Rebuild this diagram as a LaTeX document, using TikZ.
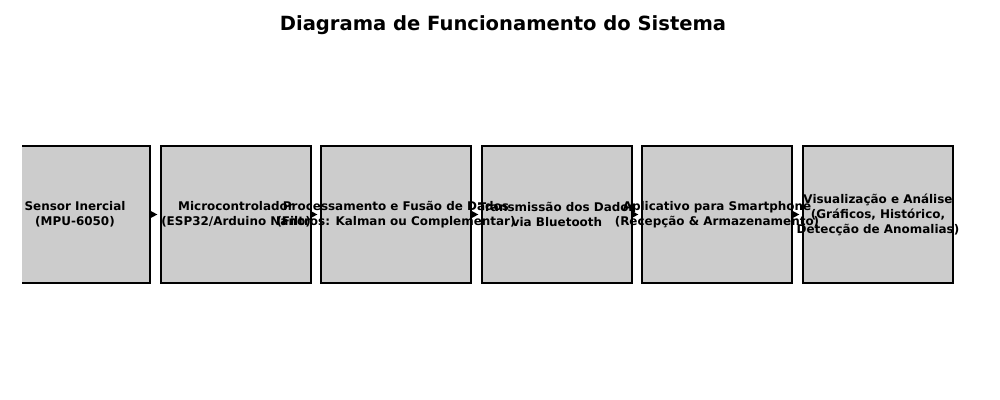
\documentclass[tikz,border=0pt]{standalone}
\usepackage{fontspec}
\setmainfont{DejaVu Sans}
\usetikzlibrary{arrows.meta, positioning, calc}
\definecolor{boxgrey}{rgb}{0.8, 0.8, 0.8}

\begin{document}
\begin{tikzpicture}[x=0.025cm, y=-0.025cm,
    stage/.style={draw=black, fill=boxgrey, line width=1.1pt, minimum width=3.75cm, minimum height=3.425cm, inner sep=0pt},
    stagetext/.style={font=\bfseries\fontsize{8.5}{10.6}\selectfont, align=center, inner sep=0pt},
    flow/.style={-{Triangle[length=4.5pt, width=4.5pt]}, line width=0.9pt, shorten >=2pt}]
        \useasboundingbox (0,0) rectangle (1000,400);
        \node[font=\bfseries\fontsize{13.9}{16}\selectfont] (title) at (503,25) {Diagrama de Funcionamento do Sistema};
        \begin{scope}
            \clip (22,0) rectangle (1000,400);
            \node[stage] (s1) at (75,214.5) {};
        \end{scope}
        \node[stage] (s2) at (236,214.5) {};
        \node[stage] (s3) at (396,214.5) {};
        \node[stage] (s4) at (557,214.5) {};
        \node[stage] (s5) at (717,214.5) {};
        \node[stage] (s6) at (878,214.5) {};
        \foreach \a/\b in {s1/s2, s2/s3, s3/s4, s4/s5, s5/s6}
            \draw[flow] (\a.east) -- (\b.west);
        \node[stagetext] (t1) at (s1) {Sensor Inercial\\(MPU-6050)};
        \node[stagetext] (t2) at (s2) {Microcontrolador\\(ESP32/Arduino Nano)};
        \node[stagetext] (t3) at (s3) {Processamento e Fusão de Dados\\(Filtros: Kalman ou Complementar)};
        \node[stagetext] (t4) at (s4) {Transmissão dos Dados\\via Bluetooth};
        \node[stagetext] (t5) at (s5) {Aplicativo para Smartphone\\(Recepção \& Armazenamento)};
        \node[stagetext] (t6) at (s6) {Visualização e Análise\\(Gráficos, Histórico,\\Detecção de Anomalias)};
    \end{tikzpicture}
\end{document}
